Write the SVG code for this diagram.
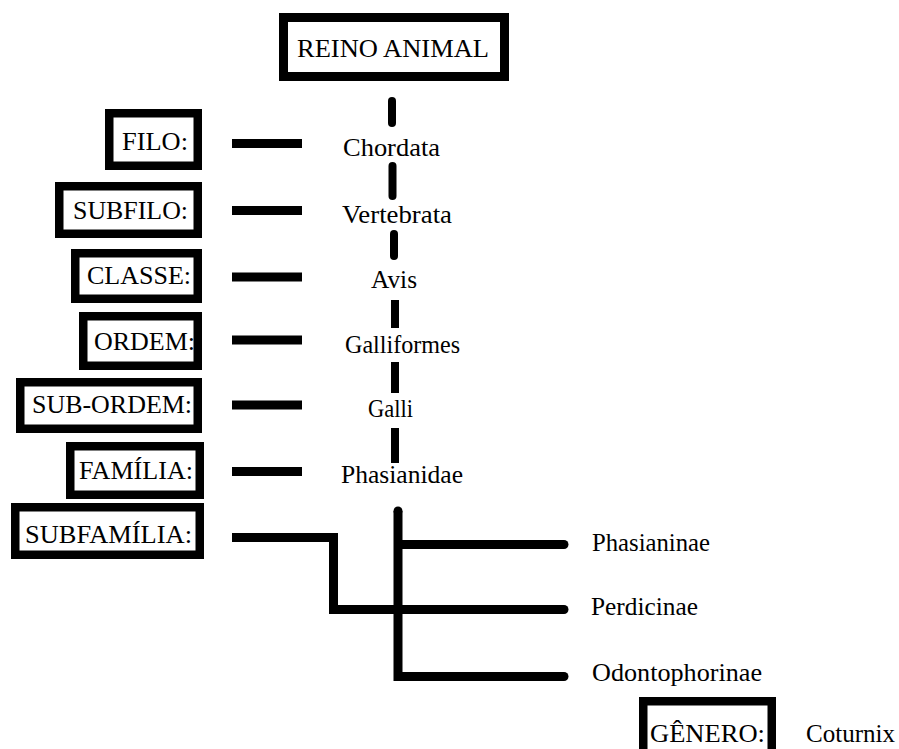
<svg xmlns="http://www.w3.org/2000/svg" width="899" height="749" viewBox="0 0 899 749">
<style>
text{font-family:'Liberation Serif','Times New Roman',serif;font-size:26px;fill:#000}
.box{fill:none;stroke:#000;stroke-width:8.5}
.c{stroke:#000;stroke-width:9;fill:none}
.d{stroke:#000;stroke-width:8;fill:none;stroke-linecap:round}
.s{stroke:#000;stroke-width:8;fill:none}
</style>
<rect width="899" height="749" fill="#fff"/>
<g id="reino"><text x="297" y="57" textLength="192" lengthAdjust="spacingAndGlyphs">REINO ANIMAL</text><rect class="box" x="283.5" y="17.5" width="221" height="59" style="stroke-width:9"/></g>
<g id="filo"><text x="122" y="150" textLength="66" lengthAdjust="spacingAndGlyphs">FILO:</text><rect class="box" x="109.25" y="113.25" width="88.5" height="52.5"/></g>
<g id="subfilo"><text x="73" y="219" textLength="115" lengthAdjust="spacingAndGlyphs">SUBFILO:</text><rect class="box" x="59.25" y="186.25" width="138.5" height="47.5"/></g>
<g id="classe"><text x="87" y="284" textLength="104" lengthAdjust="spacingAndGlyphs">CLASSE:</text><rect class="box" x="75.25" y="253.25" width="122.5" height="45.5"/></g>
<g id="ordem"><text x="94" y="350" textLength="101" lengthAdjust="spacingAndGlyphs">ORDEM:</text><rect class="box" x="83.25" y="316.25" width="114.5" height="49.5"/></g>
<g id="subordem"><text x="32" y="413" textLength="160" lengthAdjust="spacingAndGlyphs">SUB-ORDEM:</text><rect class="box" x="20.25" y="382.25" width="177.5" height="46.5"/></g>
<g id="familia"><text x="79" y="479" textLength="114" lengthAdjust="spacingAndGlyphs">FAMÍLIA:</text><rect class="box" x="70.25" y="446.25" width="129.5" height="48.5"/></g>
<g id="subfamilia"><text x="25" y="543" textLength="167" lengthAdjust="spacingAndGlyphs">SUBFAMÍLIA:</text><rect class="box" x="15.25" y="507.25" width="184.5" height="47.5"/></g>
<g id="genero"><text x="650" y="742" textLength="115" lengthAdjust="spacingAndGlyphs">GÊNERO:</text><rect class="box" x="643.25" y="701.25" width="128.5" height="70"/></g>
<g id="chordata"><text x="343" y="156" textLength="97" lengthAdjust="spacingAndGlyphs">Chordata</text></g>
<g id="vertebrata"><text x="342" y="223" textLength="110" lengthAdjust="spacingAndGlyphs">Vertebrata</text></g>
<g id="avis"><text x="371" y="288" textLength="46" lengthAdjust="spacingAndGlyphs">Avis</text></g>
<g id="galliformes"><text x="345" y="353" textLength="115" lengthAdjust="spacingAndGlyphs">Galliformes</text></g>
<g id="galli"><text x="368" y="417" textLength="45" lengthAdjust="spacingAndGlyphs">Galli</text></g>
<g id="phasianidae"><text x="341" y="483" textLength="122" lengthAdjust="spacingAndGlyphs">Phasianidae</text></g>
<g id="phasianinae"><text x="592" y="551" textLength="118" lengthAdjust="spacingAndGlyphs">Phasianinae</text></g>
<g id="perdicinae"><text x="591" y="615" textLength="107" lengthAdjust="spacingAndGlyphs">Perdicinae</text></g>
<g id="odontophorinae"><text x="592" y="681" textLength="170" lengthAdjust="spacingAndGlyphs">Odontophorinae</text></g>
<g id="coturnix"><text x="806" y="742" textLength="89" lengthAdjust="spacingAndGlyphs">Coturnix</text></g>
<g id="connectors">
<line class="d" x1="392" y1="101" x2="392" y2="123"/>
<line class="d" x1="392.5" y1="166" x2="392.5" y2="196"/>
<line class="d" x1="394" y1="234" x2="394" y2="256"/>
<line class="s" x1="395" y1="300" x2="395" y2="328"/>
<line class="s" x1="395" y1="362" x2="395" y2="393"/>
<line class="s" x1="395" y1="428" x2="395" y2="463"/>
<line class="c" x1="232" y1="143.5" x2="302" y2="143.5"/>
<line class="c" x1="232" y1="210.5" x2="302" y2="210.5"/>
<line class="c" x1="232" y1="277" x2="302" y2="277"/>
<line class="c" x1="232" y1="340" x2="302" y2="340"/>
<line class="c" x1="232" y1="405" x2="302" y2="405"/>
<line class="c" x1="232" y1="471.5" x2="302" y2="471.5"/>
<path class="c" d="M232 537.5H333.5V609.5H564" stroke-linejoin="miter"/>
<path class="c" d="M398 511V676.5H564"/>
<line class="c" x1="398" y1="544.5" x2="564" y2="544.5"/>
<circle cx="398" cy="511" r="4.5"/>
<circle cx="564" cy="544.5" r="4.5"/>
<circle cx="564" cy="609.5" r="4.5"/>
<circle cx="564" cy="676.5" r="4.5"/>
</g>
</svg>
